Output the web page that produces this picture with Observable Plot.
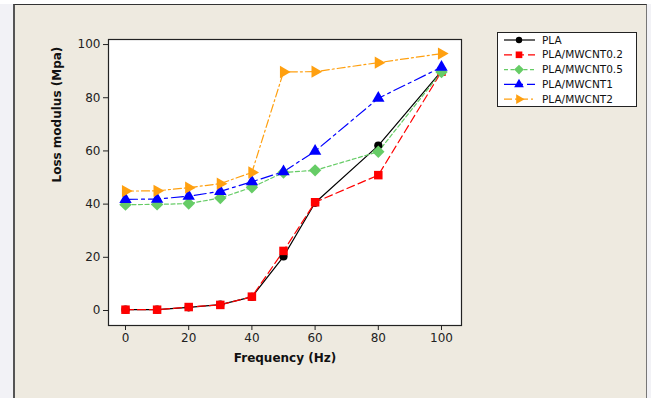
<!DOCTYPE html>
<html>
<head>
<meta charset="utf-8">
<script src="https://cdn.jsdelivr.net/npm/d3@7"></script>
<script src="https://cdn.jsdelivr.net/npm/@observablehq/plot@0.6"></script>
<style>
  html, body { margin: 0; padding: 0; }
  body { width: 651px; height: 398px; position: relative; overflow: hidden; background: #f2f2f6; font-family: "DejaVu Sans", Verdana, sans-serif; }
  #panel { position: absolute; left: 13px; top: 4px; width: 634px; height: 400px; background: #eeeae0; border-left: 2px solid #555; border-top: 1px solid #333; border-right: 1px solid #777; box-sizing: border-box; }
  #topstrip { position: absolute; left: 0; top: 0; width: 651px; height: 4px; background: #fff; }
  #chart { position: absolute; left: 0; top: 0; }
  #legend { position: absolute; left: 497px; top: 32px; }
</style>
</head>
<body>
<div id="topstrip"></div>
<div id="panel"></div>
<div id="chart"></div>
<div id="legend"></div>
<script>
const frequency = [0, 10, 20, 30, 40, 50, 60, 80, 100];
const pla       = [0.3, 0.3, 1.2, 2.2, 5.1, 20.3, 40.5, 62, 90];
const mwcnt02   = [0.3, 0.3, 1.3, 2.1, 5.2, 22.4, 40.7, 50.9, 89.8];
const mwcnt05   = [39.8, 39.9, 40.2, 42.3, 46.3, 51.9, 52.7, 59.7, 89.7];
const mwcnt1    = [41.8, 41.9, 43.0, 44.8, 48.4, 52.2, 59.9, 79.8, 91.5];
const mwcnt2    = [44.9, 45.0, 46.2, 47.7, 51.9, 89.7, 89.8, 93.2, 96.6];
const yTicks = [0, 20, 40, 60, 80, 100];
const xTicks = [0, 20, 40, 60, 80, 100];

const triangleRight = {
  draw(context, size) {
    const s = Math.sqrt(size / (Math.sqrt(3) / 4));
    const h = s * Math.sqrt(3) / 2;
    context.moveTo(2 * h / 3, 0);
    context.lineTo(-h / 3, -s / 2);
    context.lineTo(-h / 3, s / 2);
    context.closePath();
  }
};

const seriesDefs = [
  {name: "PLA", values: pla, color: "#000000", dash: null, symbol: d3.symbolCircle, r: 4.1},
  {name: "PLA/MWCNT0.2", values: mwcnt02, color: "#ff0000", dash: "8,4", symbol: d3.symbolSquare, r: 4.8},
  {name: "PLA/MWCNT0.5", values: mwcnt05, color: "#66cc66", dash: "4,2.5", symbol: d3.symbolDiamond2, r: 5.6},
  {name: "PLA/MWCNT1", values: mwcnt1, color: "#0000ff", dash: "12,4,3,4", symbol: d3.symbolTriangle, r: 4.6},
  {name: "PLA/MWCNT2", values: mwcnt2, color: "#ffa010", dash: "8,3,2,3", symbol: triangleRight, r: 4.6}
];

const marks = [Plot.frame({fill: "white", stroke: "#222", strokeWidth: 1.2})];
for (const s of seriesDefs) {
  const data = frequency.map((f, i) => ({f, v: s.values[i]}));
  marks.push(Plot.line(data, {x: "f", y: "v", stroke: s.color, strokeWidth: 1.2, strokeDasharray: s.dash || undefined}));
}
for (const s of seriesDefs) {
  const data = frequency.map((f, i) => ({f, v: s.values[i]}));
  marks.push(Plot.dot(data, {x: "f", y: "v", fill: s.color, stroke: "none", symbol: () => s.symbol, r: s.r}));
}

const chart = Plot.plot({
  width: 651,
  height: 398,
  marginLeft: 108,
  marginRight: 190,
  marginTop: 39,
  marginBottom: 73,
  style: {background: "transparent", fontFamily: "DejaVu Sans, Verdana, sans-serif", fontSize: "12px", color: "#222"},
  x: {domain: [-5.38, 106.33], ticks: xTicks, tickSize: 5, tickPadding: 3, label: null},
  y: {domain: [-5.64, 101.9], ticks: yTicks, tickSize: 5, tickPadding: 3, label: null},
  marks: [
    ...marks,
    Plot.text(["Frequency (Hz)"], {frameAnchor: "bottom", dy: 36, text: d => d, fontWeight: "bold", fontSize: 12, fill: "#111"}),
    Plot.text(["Loss modulus (Mpa)"], {frameAnchor: "left", dx: -51, rotate: -90, text: d => d, fontWeight: "bold", fontSize: 12, fill: "#111"})
  ]
});
document.getElementById("chart").appendChild(chart);

// Legend
const lw = 140, lh = 75;
const leg = d3.select("#legend").append("svg").attr("width", lw).attr("height", lh)
  .style("font-family", "DejaVu Sans, Verdana, sans-serif");
leg.append("rect").attr("x", 0.5).attr("y", 0.5).attr("width", lw - 1).attr("height", lh - 1)
  .attr("fill", "white").attr("stroke", "#222").attr("stroke-width", 1);
seriesDefs.forEach((s, i) => {
  const y = 8 + i * 14.8;
  const g = leg.append("g").attr("transform", `translate(0,${y})`);
  g.append("line").attr("x1", 7).attr("x2", 38).attr("y1", 0).attr("y2", 0)
    .attr("stroke", s.color).attr("stroke-width", 1.2).attr("stroke-dasharray", s.dash);
  const lr = s.r * 0.78;
  g.append("path").attr("transform", "translate(22,0)")
    .attr("d", d3.symbol(s.symbol, Math.PI * lr * lr)()).attr("fill", s.color);
  g.append("text").attr("x", 45).attr("y", 0).attr("dy", "0.35em").attr("font-size", 10.5).attr("fill", "#111").text(s.name);
});
</script>
</body>
</html>
